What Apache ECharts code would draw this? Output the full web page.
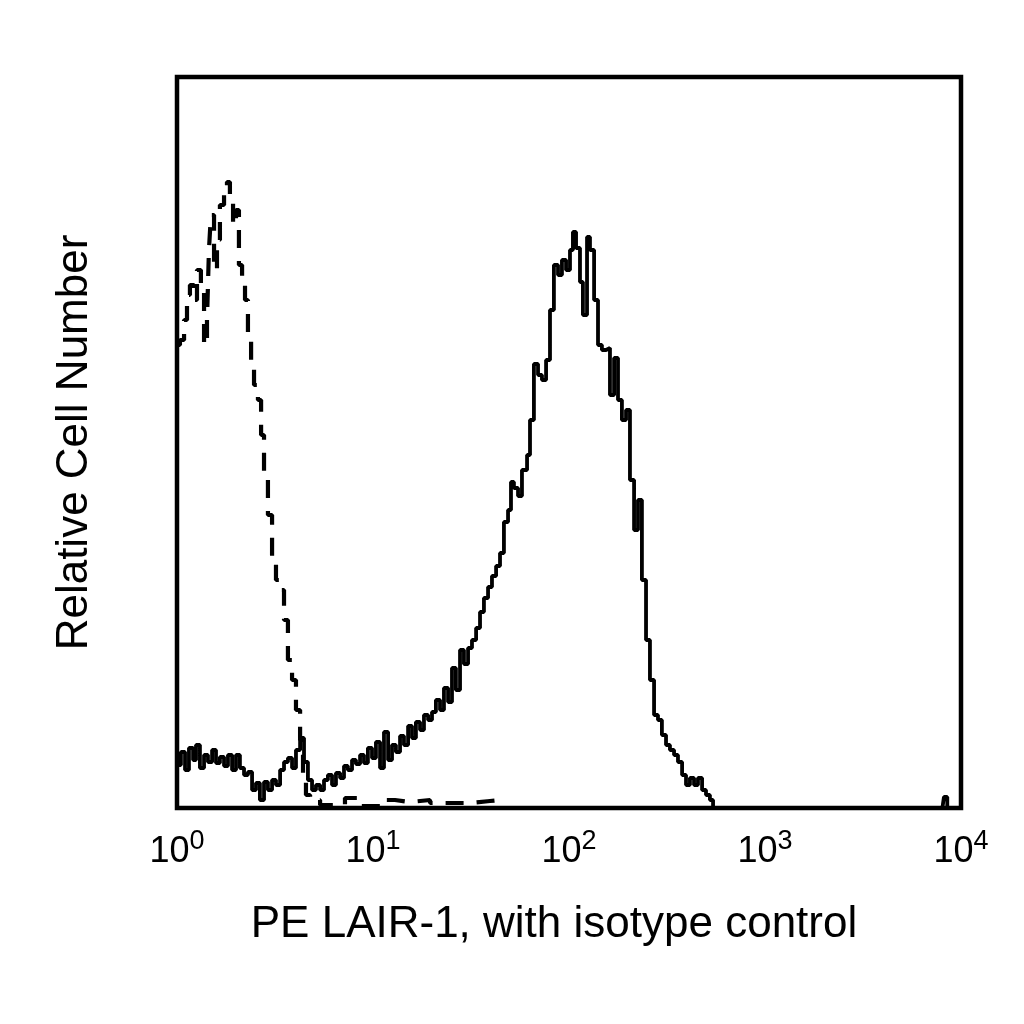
<!DOCTYPE html>
<html>
<head>
<meta charset="utf-8">
<title>PE LAIR-1, with isotype control</title>
<style>
  html, body { margin: 0; padding: 0; background: #fff; }
  #chart { width: 1024px; height: 1024px; }
</style>
</head>
<body>
<div id="chart"></div>
<script src="https://cdn.jsdelivr.net/npm/echarts@6/dist/echarts.min.js"></script>
<script>
// x: PE fluorescence in decades (log10), y: events per channel
var lairX = [0.000, 0.020, 0.041, 0.061, 0.082, 0.097, 0.117, 0.138, 0.158, 0.179,
             0.199, 0.219, 0.240, 0.260, 0.281, 0.301, 0.321, 0.342, 0.362, 0.383,
             0.403, 0.423, 0.444, 0.464, 0.485, 0.505, 0.526, 0.546, 0.566, 0.587,
             0.607, 0.628, 0.648, 0.668, 0.689, 0.709, 0.730, 0.750, 0.770, 0.791,
             0.811, 0.832, 0.852, 0.872, 0.893, 0.913, 0.934, 0.954, 0.974, 0.995,
             1.015, 1.036, 1.056, 1.077, 1.097, 1.117, 1.138, 1.158, 1.179, 1.199,
             1.219, 1.240, 1.260, 1.281, 1.301, 1.321, 1.342, 1.362, 1.383, 1.403,
             1.423, 1.444, 1.464, 1.485, 1.505, 1.526, 1.546, 1.566, 1.587, 1.607,
             1.628, 1.648, 1.668, 1.689, 1.704, 1.719, 1.740, 1.760, 1.786, 1.801,
             1.821, 1.842, 1.862, 1.883, 1.903, 1.923, 1.944, 1.964, 1.985, 2.005,
             2.020, 2.036, 2.056, 2.071, 2.092, 2.107, 2.128, 2.148, 2.168, 2.189,
             2.209, 2.230, 2.250, 2.270, 2.291, 2.311, 2.332, 2.352, 2.372, 2.393,
             2.413, 2.434, 2.454, 2.474, 2.495, 2.515, 2.536, 2.556, 2.577, 2.597,
             2.617, 2.638, 2.658, 2.679, 2.699, 2.719, 2.735, 3.905, 3.913, 3.930, 4.000];
var lairY = [43, 56, 38, 60, 48, 63, 40, 53, 46, 58,
             45, 51, 42, 53, 38, 53, 40, 33, 36, 18,
             25, 8, 26, 18, 28, 23, 38, 46, 50, 40,
             58, 70, 46, 28, 18, 23, 18, 28, 33, 23,
             35, 30, 42, 38, 48, 44, 53, 45, 60, 50,
             66, 40, 76, 48, 63, 56, 72, 63, 82, 70,
             86, 78, 93, 88, 96, 108, 98, 120, 106, 140,
             118, 158, 144, 160, 168, 180, 196, 210, 221, 232,
             242, 255, 286, 298, 326, 320, 312, 338, 353, 388,
             444, 433, 428, 448, 498, 543, 533, 548, 538, 558,
             576, 560, 526, 493, 571, 558, 508, 463, 458, 460,
             413, 450, 408, 388, 398, 328, 278, 308, 228, 168,
             128, 93, 88, 73, 63, 58, 53, 46, 33, 23,
             30, 23, 30, 18, 13, 8, 0, 0, 11, 0, 0];

var isoX = [0.000, 0.015, 0.036, 0.051, 0.066, 0.087, 0.102, 0.122, 0.138, 0.153,
            0.163, 0.173, 0.189, 0.204, 0.219, 0.240, 0.255, 0.270, 0.286, 0.301,
            0.316, 0.332, 0.347, 0.362, 0.378, 0.393, 0.413, 0.429, 0.444, 0.464,
            0.485, 0.505, 0.526, 0.546, 0.566, 0.587, 0.607, 0.628, 0.643, 0.658,
            0.679, 0.730, 0.857, 0.934, 1.061, 1.112, 1.189, 1.291, 1.495, 1.597,
            1.648, 2.300];
var isoY = [463, 468, 488, 513, 523, 508, 538, 518, 463, 488,
            558, 593, 538, 568, 603, 618, 626, 613, 583, 598,
            543, 528, 508, 468, 448, 423, 408, 373, 333, 293,
            248, 228, 218, 188, 148, 128, 98, 68, 28, 13,
            8, 3, 10, 2, 8, 6, 8, 5, 7, 8,
            0, 0];

var decades = [0, 1, 2, 3, 4];

function toPairs(xs, ys) {
  var out = [];
  for (var i = 0; i < xs.length; i++) {
    out.push([xs[i], ys[i]]);
  }
  return out;
}

var chart = echarts.init(document.getElementById('chart'));

var option = {
  backgroundColor: '#fff',
  animation: false,
  grid: {
    left: 177,
    right: 63,
    top: 77,
    bottom: 216,
    show: true,
    borderColor: '#000',
    borderWidth: 4.5,
    backgroundColor: 'transparent'
  },
  xAxis: [
    {
      // decade tick labels
      type: 'value',
      min: decades[0],
      max: decades[decades.length - 1],
      interval: 1,
      axisLine: { show: false },
      axisTick: { show: false },
      splitLine: { show: false },
      axisLabel: {
        margin: 20,
        fontSize: 36,
        lineHeight: 48,
        color: '#000',
        formatter: function (v) {
          return '10{sup|' + v + '}';
        },
        rich: {
          sup: {
            fontSize: 27,
            lineHeight: 27,
            color: '#000',
            verticalAlign: 'top'
          }
        }
      }
    },
    {
      // axis title only
      type: 'value',
      position: 'bottom',
      min: decades[0],
      max: decades[decades.length - 1],
      axisLine: { show: false },
      axisTick: { show: false },
      axisLabel: { show: false },
      splitLine: { show: false },
      name: 'PE LAIR-1, with isotype control',
      nameLocation: 'middle',
      nameGap: 95,
      nameTextStyle: {
        fontFamily: 'Liberation Sans',
        fontSize: 44,
        color: '#000',
        padding: [0, 30, 0, 0]
      }
    }
  ],
  yAxis: {
    type: 'value',
    min: 0,
    max: 731,
    axisLine: { show: false },
    axisTick: { show: false },
    axisLabel: { show: false },
    splitLine: { show: false },
    name: 'Relative Cell Number',
    nameLocation: 'middle',
    nameGap: 80,
    nameTextStyle: {
      fontFamily: 'Liberation Sans',
      fontSize: 44,
      color: '#000'
    }
  },
  series: [
    {
      name: 'Isotype control',
      type: 'line',
      step: 'end',
      showSymbol: false,
      data: toPairs(isoX, isoY),
      lineStyle: { color: '#000', width: 4.2, type: [18, 13] },
      z: 2
    },
    {
      name: 'PE LAIR-1',
      type: 'line',
      step: 'end',
      showSymbol: false,
      data: toPairs(lairX, lairY),
      lineStyle: { color: '#000', width: 3.8, type: 'solid' },
      z: 3
    }
  ]
};

chart.setOption(option);
</script>
</body>
</html>
